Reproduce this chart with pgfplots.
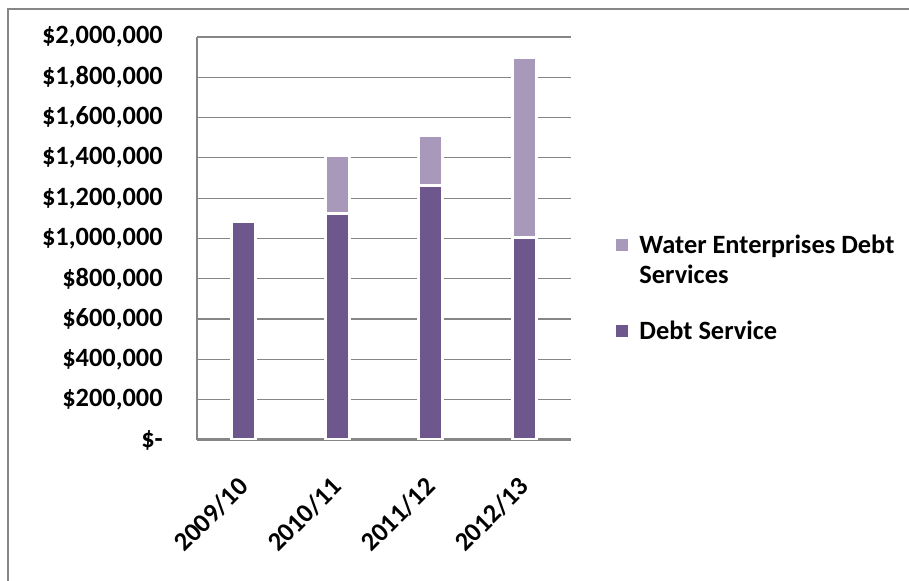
\documentclass[border=0pt]{standalone}
\usepackage{pgfplots}
\pgfplotsset{compat=1.18}
\usepackage{fontspec}
\setmainfont{Carlito}
\definecolor{darkp}{HTML}{6D578D}
\definecolor{lightp}{HTML}{A898BA}
\definecolor{gridc}{HTML}{868686}
\newcommand{\cfont}{\fontsize{19.8}{22.5}\selectfont\bfseries}
\begin{document}
\begin{tikzpicture}
\useasboundingbox (0,0) rectangle (681.75pt,435.75pt);
\draw[gridc, line width=1pt] (6pt,-10pt) -- (6pt,429pt) -- (700pt,429pt);
\begin{axis}[
  at={(147.75pt,105.75pt)}, anchor=south west,
  scale only axis, width=280.5pt, height=302.25pt,
  ybar stacked, bar width=18.2pt,
  xmin=-0.5, xmax=3.5, ymin=0, ymax=2000000,
  axis x line*=bottom, axis y line*=left,
  x axis line style={draw=none},
  y axis line style={draw=gridc, line width=1.1pt, -},
  major tick length=0pt, tick style={draw=none},
  ymajorgrids, grid style={gridc, line width=0.9pt},
  xtick={0,1,2,3},
  xticklabels={2009/10,2010/11,2011/12,2012/13},
  ytick={0,200000,400000,600000,800000,1000000,1200000,1400000,1600000,1800000,2000000},
  yticklabels={\$-\hspace{9.75pt},\$200{,}000,\$400{,}000,\$600{,}000,\$800{,}000,\$1{,}000{,}000,\$1{,}200{,}000,\$1{,}400{,}000,\$1{,}600{,}000,\$1{,}800{,}000,\$2{,}000{,}000},
  yticklabel style={font=\cfont, anchor=east, inner sep=0pt, xshift=-25.5pt},
  xticklabel style={font=\cfont, yshift=-36pt, xshift=4.5pt, rotate=45, anchor=base east, inner sep=0pt},
  scaled y ticks=false,
  reverse legend,
  legend style={at={(1.1203,0.5161)}, anchor=north west, draw=none, fill=none,
    inner sep=0pt, font=\cfont, row sep=22.5pt, column sep=6.75pt,
    cells={anchor=west, inner sep=0pt, align=left}},
  legend image code/.code={\path[#1, draw=none] (0pt,-4.3pt) rectangle (8.6pt,4.3pt);},
]
\addplot[fill=darkp, draw=white, line width=2.25pt] coordinates {(0,1085000) (1,1125000) (2,1265000) (3,1005000)};
\addlegendentry{Debt Service}
\addplot[fill=lightp, draw=white, line width=2.25pt, legend image post style={yshift=11.25pt}] coordinates {(0,0) (1,288000) (2,247000) (3,892000)};
\addlegendentry{Water Enterprises Debt\\Services}
\draw[gridc, line width=1.1pt] ([yshift=0.6pt]rel axis cs:0,0) -- ([yshift=0.6pt]rel axis cs:1,0);
\end{axis}
\end{tikzpicture}
\end{document}
